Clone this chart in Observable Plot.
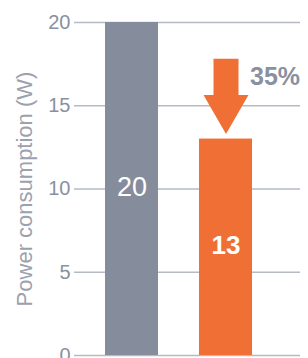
<!DOCTYPE html>
<html><head><meta charset="utf-8">
<script src="https://cdn.jsdelivr.net/npm/d3@7"></script>
<script src="https://cdn.jsdelivr.net/npm/@observablehq/plot@0.6"></script>
<style>body{margin:0;background:#fff} svg{display:block}</style>
</head><body><div id="chart"></div>
<script>
const categories = ["Before", "After"];
const values = [20, 13];
const barColors = ["#858c9c", "#ef6f35"];
const yTicks = [0, 5, 10, 15, 20];
const arrowFrom = 17.8;
const arrowTo = 13.3;
const reductionLabel = "35%";
const reductionY = 16.7;
const yLabel = "Power consumption (W)";

const data = categories.map((c, i) => ({category: c, value: values[i], color: barColors[i]}));
const orange = barColors[1];

const chart = Plot.plot({
  width: 308, height: 358,
  marginTop: 22, marginBottom: 3, marginLeft: 74, marginRight: 8,
  style: {fontFamily: "'Liberation Sans', Arial, Helvetica, sans-serif", background: "#fff", overflow: "visible"},
  x: {domain: categories, paddingInner: 0.436, paddingOuter: 0.42, align: 0.392, axis: null},
  y: {domain: [0, 20], axis: null},
  color: {type: "identity"},
  marks: [
    Plot.gridY(yTicks, {stroke: "#b5bac4", strokeOpacity: 1, strokeWidth: 1.5}),
    Plot.axisY(yTicks, {tickSize: 0, tickPadding: 4, fontSize: 20, fill: "#8a90a0", label: null}),
    Plot.text([yLabel], {frameAnchor: "left", textAnchor: "middle", dx: -50, rotate: -90, fontSize: 22, fill: "#9ba1ad"}),
    Plot.barY(data, {x: "category", y: "value", fill: "color"}),
    Plot.text(data.filter((d, i) => i === 0), {x: "category", y: d => d.value / 2, text: d => String(d.value), fill: "white", fontSize: 27, dy: -2}),
    Plot.text(data.filter((d, i) => i === 1), {x: "category", y: d => d.value / 2, text: d => String(d.value), fill: "white", fontSize: 26, fontWeight: "bold", dy: -2}),
    Plot.ruleX([categories[1]], {x: d => d, y1: arrowFrom, y2: arrowTo + 1.6, stroke: orange, strokeWidth: 25}),
    Plot.dot([categories[1]], {x: d => d, y: arrowTo, symbol: "triangle", r: 16.7, rotate: 180, dy: -26, fill: orange, stroke: "none"}),
    Plot.text([reductionLabel], {x: () => categories[1], y: reductionY, dx: 24, textAnchor: "start", fontSize: 25, fontWeight: "bold", fill: "#8a90a0"})
  ]
});
document.getElementById("chart").append(chart);
</script>
</body></html>
